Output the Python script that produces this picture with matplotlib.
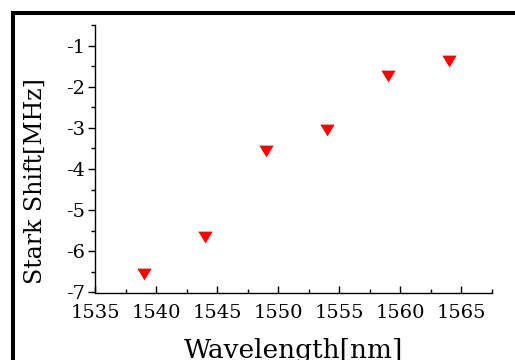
import matplotlib
matplotlib.use("Agg")
import matplotlib.pyplot as plt
from matplotlib.patches import Rectangle
from matplotlib.ticker import MultipleLocator

plt.rcParams["font.family"] = ["DejaVu Serif"]
plt.rcParams["axes.unicode_minus"] = False

wavelength = [1539, 1544, 1549, 1554, 1559, 1564]
stark_shift = [-6.56, -5.66, -3.56, -3.06, -1.75, -1.37]

# slightly flattened down-pointing triangle
tri_down = [(-1.0, 0.82), (1.0, 0.82), (0.0, -0.82), (-1.0, 0.82)]

fig = plt.figure(figsize=(5.15, 3.6), dpi=100)
ax = fig.add_axes([0.1845, 0.1875, 0.7703, 0.743])

ax.plot(wavelength, stark_shift, linestyle="none", marker=tri_down, markersize=10.3,
        color="#ff0000", markeredgewidth=0)

ax.set_xlim(1535, 1567.5)
ax.set_ylim(-7, -0.5)
ax.xaxis.set_major_locator(MultipleLocator(5))
ax.xaxis.set_minor_locator(MultipleLocator(2.5))
ax.yaxis.set_major_locator(MultipleLocator(1))
ax.yaxis.set_minor_locator(MultipleLocator(0.5))

for side in ("top", "right"):
    ax.spines[side].set_visible(False)
for side in ("left", "bottom"):
    ax.spines[side].set_linewidth(1.0)

ax.tick_params(axis="x", which="major", direction="in", length=5, width=1.0, labelsize=14, pad=8)
ax.tick_params(axis="x", which="minor", direction="in", length=3, width=1.0)
ax.tick_params(axis="y", which="major", direction="out", length=5, width=1.0, labelsize=14, pad=2)
ax.tick_params(axis="y", which="minor", direction="out", length=3, width=1.0)

ax.set_xlabel("Wavelength[nm]", fontsize=19, labelpad=11.5)
ax.set_ylabel("Stark Shift[MHz]", fontsize=17)
ax.yaxis.set_label_coords(-0.121, 0.417)

# thick frame around the figure (cropped on right and bottom)
frame = Rectangle((13 / 515, -0.2), 1.2, 1.2 - 13 / 360, transform=fig.transFigure,
                  fill=False, edgecolor="black", linewidth=2.9, clip_on=False)
fig.add_artist(frame)

fig.savefig("out.png", dpi=100)
